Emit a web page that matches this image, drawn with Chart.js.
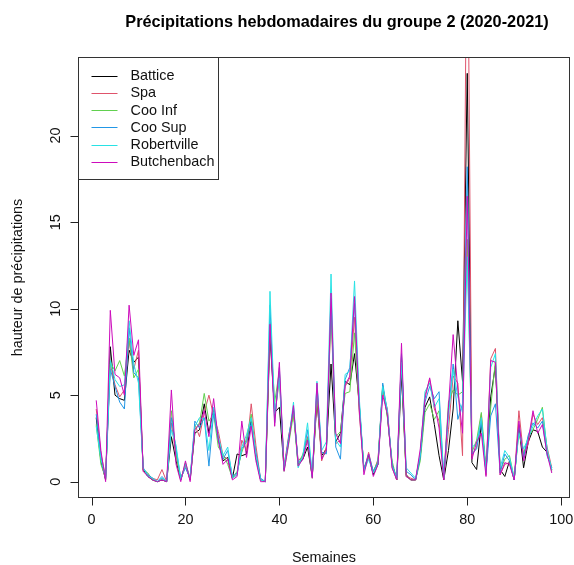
<!DOCTYPE html>
<html>
<head>
<meta charset="utf-8">
<script src="https://cdn.jsdelivr.net/npm/chart.js@4/dist/chart.umd.min.js"></script>
<style>
  html, body { margin: 0; padding: 0; background: #fff; }
  #c { display: block; }
</style>
</head>
<body>
<canvas id="c" width="574" height="565"></canvas>
<script>
// Weekly precipitation, group 2 stations, 2020-2021 (98 weeks)
const weeks = [1,2,3,4,5,6,7,8,9,10,11,12,13,14,15,16,17,18,19,20,
  21,22,23,24,25,26,27,28,29,30,31,32,33,34,35,36,37,38,39,40,
  41,42,43,44,45,46,47,48,49,50,51,52,53,54,55,56,57,58,59,60,
  61,62,63,64,65,66,67,68,69,70,71,72,73,74,75,76,77,78,79,80,
  81,82,83,84,85,86,87,88,89,90,91,92,93,94,95,96,97,98];

const battice = [3.7,1.2,0.1,7.8,5.0,4.8,4.7,7.6,6.9,7.2,0.7,0.3,0.1,0.0,0.1,0.0,2.6,1.2,0.1,1.0,
  0.1,2.8,3.0,4.5,2.8,4.2,2.5,1.2,1.4,0.2,1.6,1.5,1.6,3.6,1.4,0.1,0.0,8.4,4.0,4.3,
  0.7,2.5,4.1,1.0,1.3,2.0,0.3,4.7,1.5,1.9,6.8,2.3,2.8,5.8,5.6,7.4,4.5,0.7,1.5,0.4,
  1.0,5.5,3.8,1.0,0.1,6.2,0.4,0.1,0.1,1.5,4.3,4.9,3.3,1.5,0.1,1.8,4.2,9.3,5.8,23.6,
  1.1,0.7,3.4,0.6,4.9,6.7,0.7,0.3,1.2,0.1,3.2,0.8,2.3,3.0,2.9,2.0,1.7,0.7];

const spa = [4.2,1.6,0.3,6.8,5.6,4.9,5.3,8.1,6.5,7.6,0.6,0.4,0.2,0.1,0.7,0.0,3.4,1.5,0.2,0.9,
  0.1,3.3,2.6,4.0,5.0,3.8,2.9,1.5,1.3,0.2,0.4,2.4,1.8,4.5,2.1,0.1,0.0,9.2,3.8,5.9,
  0.9,2.7,4.0,1.2,1.5,2.6,0.3,4.9,1.2,2.0,9.8,2.2,2.4,5.5,6.0,9.5,4.0,0.6,1.7,0.5,
  1.3,5.2,4.2,0.8,0.1,7.3,0.3,0.2,0.1,1.6,5.0,5.9,4.2,3.5,0.2,3.0,6.1,5.7,1.5,36.0,
  1.5,2.0,3.9,0.4,7.1,7.7,0.4,1.0,1.1,0.1,4.1,1.5,2.2,3.9,3.3,3.7,2.0,0.8];

const cooInf = [3.3,1.0,0.2,6.9,6.4,7.0,6.1,8.3,6.0,6.5,0.7,0.5,0.1,0.0,0.2,0.0,4.1,1.6,0.1,1.1,
  0.2,3.0,3.4,5.1,3.5,3.9,2.0,1.6,1.0,0.2,0.6,1.7,2.5,3.9,1.6,0.1,0.0,9.0,4.6,6.4,
  0.6,2.2,3.9,0.9,1.6,2.5,0.2,5.3,1.4,1.7,10.1,2.6,2.9,5.1,5.2,8.6,4.3,0.8,1.4,0.6,
  1.2,5.6,3.7,1.2,0.1,7.2,0.3,0.1,0.1,1.2,4.0,4.5,3.6,4.1,0.2,4.6,5.3,5.0,5.2,14.0,
  1.7,2.4,4.0,0.8,4.3,7.0,0.6,1.3,1.5,0.2,2.9,1.6,2.6,3.0,3.6,4.3,1.8,0.6];

const cooSup = [3.9,1.4,0.2,6.5,5.5,4.6,4.2,8.9,6.3,6.0,0.8,0.4,0.2,0.0,0.3,0.0,3.7,1.9,0.2,0.8,
  0.2,3.5,3.1,3.7,0.9,4.0,2.4,1.3,1.8,0.3,0.5,1.9,2.3,3.4,1.7,0.2,0.0,10.2,3.4,6.6,
  0.7,2.6,4.3,1.1,1.4,3.0,0.3,5.6,1.7,1.6,10.6,2.0,1.3,5.9,6.6,10.3,4.6,0.7,1.6,0.6,
  1.1,5.7,4.0,1.0,0.2,7.4,0.6,0.4,0.1,1.4,4.6,5.5,4.8,5.2,0.2,4.1,6.8,3.6,4.5,18.2,
  1.6,1.9,3.5,0.5,3.8,4.5,0.5,1.6,1.2,0.1,3.3,1.4,2.7,3.4,3.1,3.5,1.5,0.8];

const robertville = [3.2,1.3,0.2,7.0,5.9,5.5,5.6,9.3,6.8,5.7,0.8,0.3,0.2,0.0,0.2,0.0,3.0,2.1,0.1,1.0,
  0.2,3.2,3.7,3.6,1.8,4.3,2.6,1.5,2.0,0.2,0.4,2.0,2.7,3.7,1.5,0.1,0.0,11.0,3.9,6.0,
  0.8,2.4,4.6,0.8,1.5,3.4,0.3,5.8,1.8,2.3,12.0,2.4,2.0,6.2,6.4,11.6,4.9,0.6,1.3,0.5,
  1.0,5.5,4.1,0.9,0.2,6.9,0.8,0.5,0.2,1.6,5.2,5.7,4.3,4.8,0.2,3.8,6.5,4.9,4.0,13.0,
  2.0,2.2,3.7,0.5,6.6,7.4,0.8,1.8,1.4,0.2,2.8,1.9,2.5,3.2,3.8,4.2,1.9,0.7];

const butchenbach = [4.7,1.8,0.0,9.9,6.2,6.0,5.0,10.2,7.3,8.2,0.6,0.3,0.1,0.0,0.1,0.0,5.3,1.0,0.0,1.2,
  0.0,3.0,3.3,4.1,2.6,4.8,2.4,1.0,1.3,0.1,0.3,3.5,1.4,3.2,1.2,0.0,0.0,9.1,3.2,6.9,
  0.6,2.3,4.4,0.9,1.3,2.4,0.2,5.7,1.3,1.8,10.9,2.8,2.2,5.6,6.1,10.7,4.2,0.4,1.6,0.3,
  1.0,5.0,3.9,0.8,0.1,8.0,0.3,0.1,0.1,1.9,4.8,6.0,4.5,3.1,0.1,4.3,8.5,5.3,2.8,16.5,
  1.3,2.3,2.8,0.3,7.0,6.9,0.4,1.1,1.0,0.1,3.5,1.2,2.4,4.1,2.8,3.3,1.6,0.5];

const stationNames = ["Battice", "Spa", "Coo Inf", "Coo Sup", "Robertville", "Butchenbach"];
const stationColors = ["#000000", "#DF536B", "#61D04F", "#2297E6", "#28E2E5", "#CD0BBC"];
const seriesValues = [battice, spa, cooInf, cooSup, robertville, butchenbach];

const xTicks = [0, 20, 40, 60, 80, 100];
const yTicks = [0, 5, 10, 15, 20];

const titleText = "Précipitations hebdomadaires du groupe 2 (2020-2021)";
const xTitle = "Semaines";
const yTitle = "hauteur de précipitations";

// axis limits follow the first station's range, extended by 4% on each side
const xMin = 1 - 0.04 * 97, xMax = 98 + 0.04 * 97;
const yMin = -0.04 * 23.6, yMax = 23.6 * 1.04;

const FONT = '"Liberation Sans", Arial, Helvetica, sans-serif';

const frame = {
  id: 'frame',
  beforeDatasetsDraw(chart) {
    const ctx = chart.ctx;
    const a = chart.chartArea;
    ctx.save();
    ctx.fillStyle = '#ffffff';
    ctx.fillRect(a.left, a.top, a.right - a.left, a.bottom - a.top);
    ctx.restore();
  },
  afterDraw(chart) {
    const ctx = chart.ctx;
    const a = chart.chartArea;
    const xs = chart.scales.x, ys = chart.scales.y;
    ctx.save();
    ctx.strokeStyle = '#000';
    ctx.fillStyle = '#000';
    ctx.lineWidth = 1;

    // plot box
    const L = Math.round(a.left) + 0.5, R = Math.round(a.right) - 0.5;
    const T = Math.round(a.top) + 0.5, B = Math.round(a.bottom) - 0.5;
    ctx.strokeStyle = '#333';
    ctx.strokeRect(L, T, R - L, B - T);

    // x axis
    ctx.strokeStyle = '#222';
    ctx.beginPath();
    ctx.moveTo(Math.round(xs.getPixelForValue(xTicks[0])) + 0.5, B);
    ctx.lineTo(Math.round(xs.getPixelForValue(xTicks[xTicks.length - 1])) + 0.5, B);
    xTicks.forEach(v => {
      const px = Math.round(xs.getPixelForValue(v)) + 0.5;
      ctx.moveTo(px, B);
      ctx.lineTo(px, B + 8);
    });
    ctx.stroke();
    ctx.font = '14.4px ' + FONT;
    ctx.fillStyle = '#111';
    ctx.textAlign = 'center';
    ctx.textBaseline = 'middle';
    xTicks.forEach(v => {
      ctx.fillText(String(v), xs.getPixelForValue(v), B + 23);
    });

    // y axis
    ctx.beginPath();
    ctx.moveTo(L, Math.round(ys.getPixelForValue(yTicks[0])) + 0.5);
    ctx.lineTo(L, Math.round(ys.getPixelForValue(yTicks[yTicks.length - 1])) + 0.5);
    yTicks.forEach(v => {
      const py = Math.round(ys.getPixelForValue(v)) + 0.5;
      ctx.moveTo(L, py);
      ctx.lineTo(L - 8, py);
    });
    ctx.stroke();
    yTicks.forEach(v => {
      ctx.save();
      ctx.translate(L - 22, ys.getPixelForValue(v));
      ctx.rotate(-Math.PI / 2);
      ctx.fillText(String(v), 0, 0);
      ctx.restore();
    });

    // axis titles
    const cx = (a.left + a.right) / 2, cy = (a.top + a.bottom) / 2;
    ctx.fillText(xTitle, cx, B + 61);
    ctx.save();
    ctx.translate(L - 60, cy);
    ctx.rotate(-Math.PI / 2);
    ctx.fillText(yTitle, 0, 0);
    ctx.restore();

    // main title
    ctx.font = 'bold 16.3px ' + FONT;
    ctx.fillStyle = '#000';
    ctx.fillText(titleText, cx + 13, 23);

    // legend
    const lgW = 140, lgH = 122;
    ctx.fillStyle = '#fff';
    ctx.fillRect(L, T, lgW, lgH);
    ctx.strokeStyle = '#333';
    ctx.strokeRect(L, T, lgW, lgH);
    ctx.font = '14.4px ' + FONT;
    ctx.textAlign = 'left';
    stationNames.forEach((name, i) => {
      const ry = T + 18.2 + i * 17.2;
      ctx.strokeStyle = stationColors[i];
      ctx.beginPath();
      ctx.moveTo(L + 13, Math.round(ry) + 0.5);
      ctx.lineTo(L + 39, Math.round(ry) + 0.5);
      ctx.stroke();
      ctx.fillStyle = '#111';
      ctx.fillText(name, L + 52, ry + 0.5);
    });
    ctx.restore();
  }
};

const datasets = stationNames.map((name, i) => ({
  label: name,
  data: seriesValues[i],
  borderColor: stationColors[i],
  backgroundColor: stationColors[i],
  borderWidth: 1,
  pointRadius: 0,
  tension: 0,
  fill: false,
  order: stationNames.length - i
}));

new Chart(document.getElementById('c'), {
  type: 'line',
  data: { labels: weeks, datasets },
  options: {
    responsive: false,
    animation: false,
    devicePixelRatio: 1,
    layout: { padding: { left: 78, right: 4, top: 57, bottom: 67 } },
    plugins: { legend: { display: false }, tooltip: { enabled: false }, title: { display: false } },
    scales: {
      x: { type: 'linear', min: xMin, max: xMax, display: false },
      y: { type: 'linear', min: yMin, max: yMax, display: false }
    }
  },
  plugins: [frame]
});
</script>
</body>
</html>
